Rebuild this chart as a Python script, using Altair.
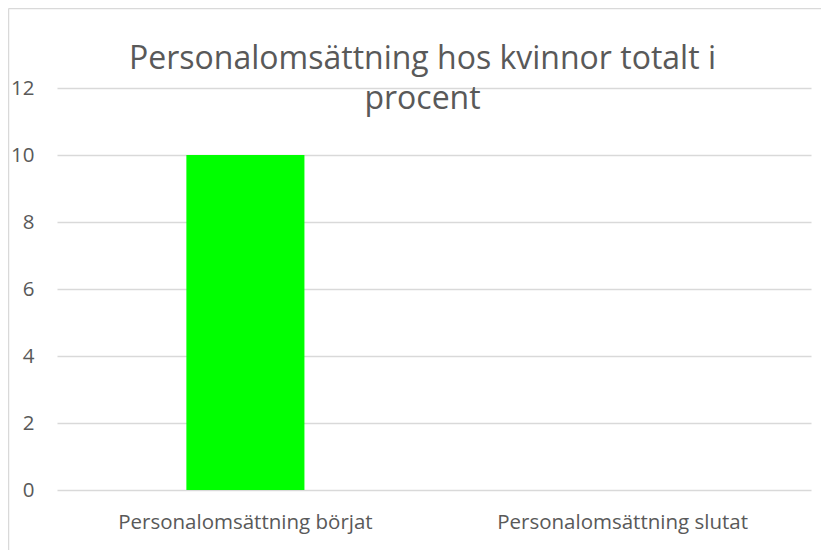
import altair as alt
import pandas as pd

categories = ["Personalomsättning börjat", "Personalomsättning slutat"]
values = [10, 0]
y_ticks = [0, 2, 4, 6, 8, 10, 12]
title_lines = ["Personalomsättning hos kvinnor totalt i", "procent"]

df = pd.DataFrame({"kategori": categories, "procent": values})

FONT = "Open Sans"
TXT = "#595959"
GRID = "#d9d9d9"

bars = alt.Chart(df).mark_bar(color="#00ff00").encode(
    x=alt.X("kategori:N", sort=categories, title=None,
            scale=alt.Scale(paddingInner=0.687, paddingOuter=0.343),
            axis=alt.Axis(labelAngle=0, domain=False, ticks=False,
                          labelPadding=22, labelFontSize=20.5, labelLimit=0,
                          labelColor=TXT, labelFont=FONT, grid=False)),
    y=alt.Y("procent:Q", title=None,
            scale=alt.Scale(domain=[0, 12], nice=False),
            axis=alt.Axis(values=y_ticks, domain=False, ticks=False,
                          labelPadding=23, labelFontSize=20.5,
                          labelColor=TXT, labelFont=FONT,
                          gridColor=GRID, gridWidth=1.3)),
)

single = pd.DataFrame({"b": [0]})

title_text = alt.Chart(single).mark_text(
    font=FONT, fontSize=32, color=TXT, align="center",
    baseline="alphabetic", lineHeight=40,
).encode(
    text=alt.value(title_lines),
    x=alt.value(365.5),
    y=alt.value(-19),
)

top_border = alt.Chart(single).mark_rule(color=GRID, strokeWidth=1.5).encode(
    x=alt.value(-48.5), x2=alt.value(770), y=alt.value(-79.5)
)
left_border = alt.Chart(single).mark_rule(color=GRID, strokeWidth=1.5).encode(
    x=alt.value(-48.5), y=alt.value(-79.5), y2=alt.value(470)
)
right_mask = alt.Chart(single).mark_rule(color="white", strokeWidth=4).encode(
    x=alt.value(764), y=alt.value(-78), y2=alt.value(470)
)

chart = alt.layer(bars, title_text, top_border, left_border, right_mask).properties(
    width=754,
    height=402,
    autosize=alt.AutoSizeParams(type="none"),
    padding={"left": 49, "top": 80, "right": 10, "bottom": 60},
).configure_view(stroke=None)

chart.save("out.html", embed_options={"renderer": "svg", "actions": False})
